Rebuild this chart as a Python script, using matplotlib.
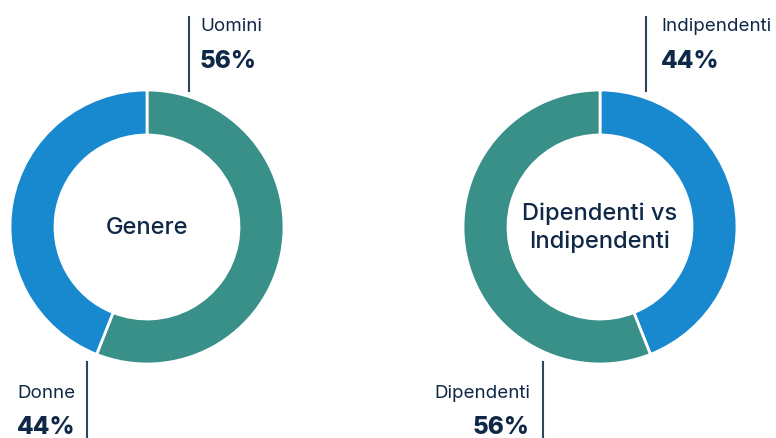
import matplotlib.pyplot as plt

# data
gender_labels = ["Uomini", "Donne"]
gender_values = [56, 44]
work_labels = ["Indipendenti", "Dipendenti"]
work_values = [44, 56]

TEAL = "#389089"
BLUE = "#1888CF"
NAVY = "#0F2847"

plt.rcParams["font.family"] = ["Inter", "DejaVu Sans"]

W, H = 776, 439
fig = plt.figure(figsize=(W / 100, H / 100), dpi=100)
ax = fig.add_axes([0, 0, 1, 1])


def py(y):
    # pixel row (from top) to data y
    return H - y


def donut(cx, cy, values, colors, title):
    ax.pie(values, colors=colors, center=(cx, py(cy)), radius=137,
           startangle=90, counterclock=False,
           wedgeprops=dict(width=45, edgecolor="white", linewidth=2))
    ax.text(cx, py(cy), title, ha="center", va="center", fontsize=17,
            fontweight="medium", color=NAVY, linespacing=1.3)


def label(x, y_name, y_pct, name, pct, ha, line_x, line_y0, line_y1):
    ax.plot([line_x, line_x], [py(line_y0), py(line_y1)], color="#2E4560", lw=1.5)
    ax.text(x, py(y_name), name, ha=ha, va="center", fontsize=13.5, color=NAVY)
    ax.text(x, py(y_pct), f"{pct}%", ha=ha, va="center", fontsize=17.5,
            fontweight="heavy", color=NAVY)


# Genere: Uomini (teal) first, clockwise from top
donut(147, 228, gender_values, [TEAL, BLUE], "Genere")
label(200, 26, 62, gender_labels[0], gender_values[0], "left", 189, 18, 92)
label(75, 394, 428, gender_labels[1], gender_values[1], "right", 87, 363, 439)

# Dipendenti vs Indipendenti: Indipendenti (blue) first
donut(600, 228, work_values, [BLUE, TEAL], "Dipendenti vs\nIndipendenti")
label(661, 26, 62, work_labels[0], work_values[0], "left", 646, 18, 92)
label(530, 394, 428, work_labels[1], work_values[1], "right", 543, 363, 439)

ax.set_xlim(0, W)
ax.set_ylim(0, H)
ax.set_aspect("equal")
ax.axis("off")

fig.savefig("out.png", dpi=100, facecolor="white")
